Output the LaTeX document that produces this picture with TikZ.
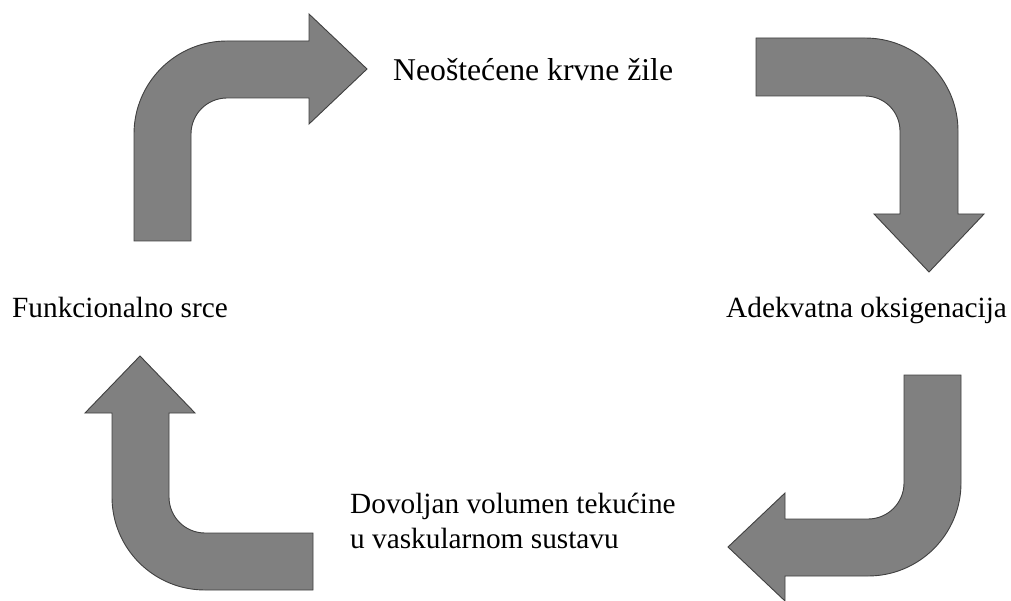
\documentclass[tikz,border=0pt]{standalone}
\usepackage{fontspec}
\setmainfont{Liberation Serif}
\begin{document}
\begin{tikzpicture}[x=1pt,y=-1pt,
  blockarrow/.style={fill={rgb,255:red,128;green,128;blue,128},draw={rgb,255:red,64;green,64;blue,64},line width=0.9pt,line join=miter},
  lbl/.style={inner sep=0pt,anchor=base west,font=\fontsize{29.3}{35}\selectfont,align=left}]
\useasboundingbox (0,0) rectangle (1011,601);
% top-left bent arrow
\draw[blockarrow] (134,241) -- (134,134) arc[start angle=180,end angle=270,radius=93]
  -- (309,41) -- (309,14) -- (367,69) -- (309,124) -- (309,98) -- (227,98)
  arc[start angle=270,end angle=180,radius=36] -- (191,241) -- cycle;
% top-right bent arrow
\draw[blockarrow] (756,38) -- (865,38) arc[start angle=270,end angle=360,radius=93]
  -- (958,214) -- (984,214) -- (929,272) -- (874,214) -- (900,214) -- (900,131)
  arc[start angle=0,end angle=-90,radius=35] -- (756,96) -- cycle;
% bottom-right bent arrow
\draw[blockarrow] (904,375) -- (961,375) -- (961,483) arc[start angle=0,end angle=90,radius=93]
  -- (785,576) -- (785,601) -- (728,547) -- (785,493) -- (785,519) -- (868,519)
  arc[start angle=90,end angle=0,radius=36] -- cycle;
% bottom-left bent arrow
\draw[blockarrow] (313,590) -- (205,590) arc[start angle=90,end angle=180,radius=93]
  -- (112,413) -- (85,413) -- (140,356) -- (195,413) -- (169,413) -- (169,497)
  arc[start angle=180,end angle=90,radius=36] -- (313,533) -- cycle;
% labels
\node[lbl,font=\fontsize{31.7}{35}\selectfont] (zile) at (393,81) {Neoštećene krvne žile};
\node[lbl] (srce) at (12,317) {Funkcionalno srce};
\node[lbl] (oksi) at (726,317) {Adekvatna oksigenacija};
\node[lbl] (volu) at (350,548) {Dovoljan volumen tekućine\\u vaskularnom sustavu};
\end{tikzpicture}
\end{document}
